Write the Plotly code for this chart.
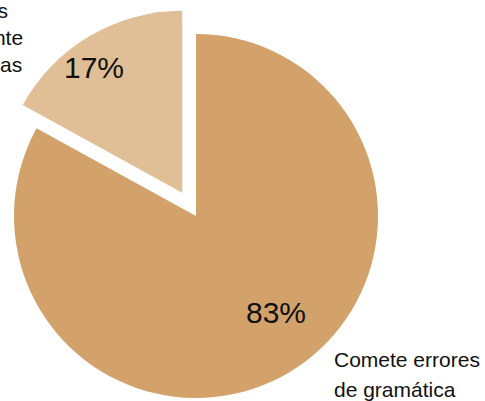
import math
import plotly.graph_objects as go

# ---- data ----
labels = ["Comete errores de gramática", "No comete errores de gramática"]
values = [83, 17]
label_lines_main = ["Comete errores", "de gramática"]
label_lines_pulled = ["No comete errores", "y escribe correctamente", "las palabras"]

# ---- style ----
W, H = 485, 401
C_MAIN = "#D3A26B"
C_LIGHT = "#E0BF97"
CLEAR = "rgba(0,0,0,0)"
FONT = "Liberation Sans, Arial, Helvetica, sans-serif"

cx, cy, r = 196, 216, 182
pull_px = 27

total = sum(values)
mid_deg = 360 * values[1] / total / 2  # left of 12 o'clock
dx = -pull_px * math.sin(math.radians(mid_deg))
dy = -pull_px * math.cos(math.radians(mid_deg))


def dom(cx_, cy_, r_):
    return dict(x=[(cx_ - r_) / W, (cx_ + r_) / W],
                y=[1 - (cy_ + r_) / H, 1 - (cy_ - r_) / H])


fig = go.Figure()
fig.add_trace(go.Pie(
    labels=labels, values=values, sort=False, direction="clockwise", rotation=0,
    marker=dict(colors=[C_MAIN, CLEAR], line=dict(width=0)),
    textinfo="none", hoverinfo="skip", showlegend=False,
    domain=dom(cx, cy, r),
))
fig.add_trace(go.Pie(
    labels=labels, values=values, sort=False, direction="clockwise", rotation=0,
    marker=dict(colors=[CLEAR, C_LIGHT], line=dict(width=0)),
    textinfo="none", hoverinfo="skip", showlegend=False,
    domain=dom(cx + dx, cy + dy, r),
))


def px(x):
    return x / W


def py(y):
    return 1 - y / H


ann = []
pct = [f"{round(v * 100 / total)}%" for v in values]
ann.append(dict(x=px(276), y=py(312), text=pct[0], font=dict(size=30)))
ann.append(dict(x=px(94), y=py(67), text=pct[1], font=dict(size=30)))

for line, yc in zip(label_lines_main, [359, 389]):
    ann.append(dict(x=px(332), y=py(yc), text=line, xanchor="left", font=dict(size=21)))
# pulled slice label (cut off at the left edge)
for line, xr, yc in zip(label_lines_pulled, [10, 25, 24], [11, 38, 64]):
    ann.append(dict(x=px(xr), y=py(yc), text=line, xanchor="right", font=dict(size=21)))

for a in ann:
    a.update(xref="paper", yref="paper", showarrow=False, yanchor="middle")
    a.setdefault("xanchor", "center")
    a["font"].update(family=FONT, color="#111111")

fig.update_layout(
    width=W, height=H,
    margin=dict(l=0, r=0, t=0, b=0),
    paper_bgcolor="white", plot_bgcolor="white",
    annotations=ann,
)

fig.write_html("out.html", config={"displayModeBar": False},
               post_script="document.body.style.margin='0px';")
